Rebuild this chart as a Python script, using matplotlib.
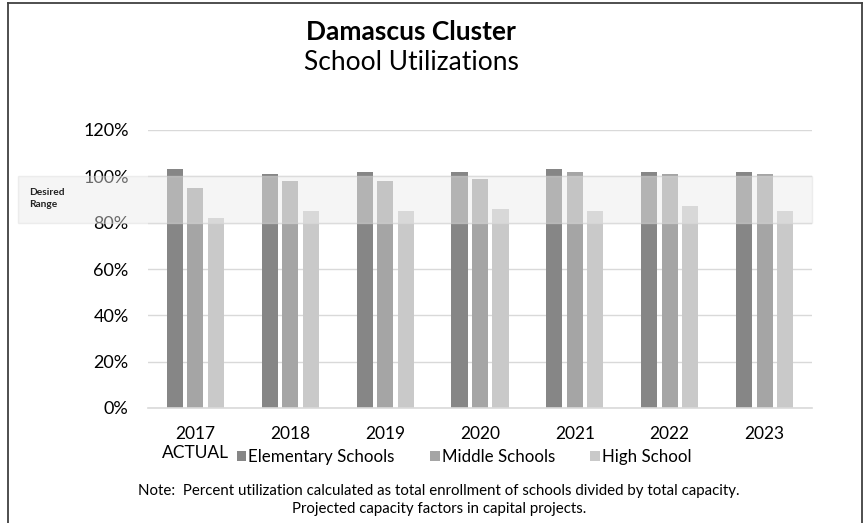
import matplotlib
matplotlib.use("Agg")
import matplotlib.pyplot as plt
import matplotlib.transforms as mtransforms
from matplotlib.patches import Rectangle, Patch
from matplotlib.lines import Line2D
import numpy as np

plt.rcParams['font.family'] = ['Lato', 'DejaVu Sans']

years = ["2017\nACTUAL", "2018", "2019", "2020", "2021", "2022", "2023"]
elementary = [1.03, 1.01, 1.02, 1.02, 1.03, 1.02, 1.02]
middle = [0.95, 0.98, 0.98, 0.99, 1.02, 1.01, 1.01]
high = [0.82, 0.85, 0.85, 0.86, 0.85, 0.87, 0.85]
series_names = ["Elementary Schools", "Middle Schools", "High School"]
colors = ["#868686", "#a5a5a5", "#c9c9c9"]
desired_low, desired_high = 0.80, 1.00
yticks = [0, 0.2, 0.4, 0.6, 0.8, 1.0, 1.2]

W, H = 865, 523
fig = plt.figure(figsize=(W / 100, H / 100), dpi=100)
ax = fig.add_axes([148 / W, 1 - 408 / H, (812 - 148) / W, (408 - 130) / H])

x = np.arange(len(years))
width = 0.17
offset = 0.216
for i, (vals, c) in enumerate(zip([elementary, middle, high], colors)):
    ax.bar(x + (i - 1) * offset, vals, width, color=c, zorder=2)

ax.set_xlim(-0.5, len(years) - 0.5)
ax.set_ylim(0, 1.2)
ax.set_yticks(yticks)
ax.set_yticklabels([f"{int(round(v * 100))}%" for v in yticks], fontsize=13)
ax.set_xticks(x)
ax.set_xticklabels(years, fontsize=12.5, linespacing=1.25)
ax.tick_params(axis='x', length=0, pad=13)
ax.tick_params(axis='y', length=0, pad=14)
ax.grid(axis='y', color='#d9d9d9', linewidth=1, zorder=0)
for s in ['top', 'right', 'left']:
    ax.spines[s].set_visible(False)
ax.spines['bottom'].set_color('#d9d9d9')
ax.spines['bottom'].set_linewidth(1.2)

# desired range band
trans = mtransforms.blended_transform_factory(ax.transAxes, ax.transData)
x0 = (18 - 148) / (812 - 148)
band = Rectangle((x0, desired_low), 1 - x0, desired_high - desired_low, transform=trans,
                 facecolor='#ebebeb', alpha=0.45, edgecolor='#dcdcdc', linewidth=1.0,
                 clip_on=False, zorder=3)
ax.add_patch(band)
ax.text((29 - 148) / (812 - 148), 0.905, "Desired\nRange", transform=trans, fontsize=7.3,
        fontweight='bold', va='center', ha='left', linespacing=1.5, color='#222222')

# titles
fig.text(411 / W, 1 - 32 / H, "Damascus Cluster", fontsize=19, fontweight='bold',
         ha='center', va='center')
fig.text(411 / W, 1 - 62 / H, "School Utilizations", fontsize=19, ha='center', va='center')

# legend
handles = [Patch(facecolor=c, edgecolor='none') for c in colors]
fig.legend(handles, series_names, loc='center left', bbox_to_anchor=(237 / W, 1 - 457 / H),
           ncol=3, frameon=False, fontsize=12.2, handlelength=0.55, handleheight=0.55,
           handletextpad=0.12, columnspacing=2.1, borderaxespad=0, borderpad=0)

# note
fig.text(439 / W, 1 - 491 / H,
         "Note:  Percent utilization calculated as total enrollment of schools divided by total capacity.",
         fontsize=10.8, ha='center', va='center')
fig.text(439 / W, 1 - 509 / H, "Projected capacity factors in capital projects.",
         fontsize=10.8, ha='center', va='center')

# border
bc = '#404040'
fig.add_artist(Line2D([8 / W, 8 / W], [0, 1 - 3 / H], color=bc, lw=1.3, transform=fig.transFigure))
fig.add_artist(Line2D([862 / W, 862 / W], [0, 1 - 3 / H], color=bc, lw=1.3, transform=fig.transFigure))
fig.add_artist(Line2D([8 / W, 862 / W], [1 - 3 / H, 1 - 3 / H], color=bc, lw=1.3, transform=fig.transFigure))

fig.savefig("out.png", dpi=100)
